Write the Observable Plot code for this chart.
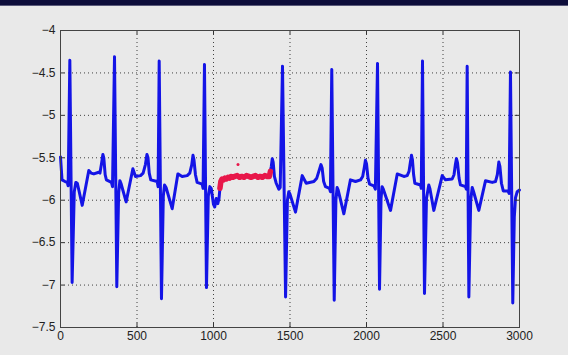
<!DOCTYPE html>
<html><head><meta charset="utf-8">
<script src="https://cdn.jsdelivr.net/npm/d3@7"></script>
<script src="https://cdn.jsdelivr.net/npm/@observablehq/plot@0.6"></script>
<style>
html,body{margin:0;padding:0;background:#e9e9e9;width:568px;height:355px;overflow:hidden}
#strip{position:absolute;left:0;top:0;width:568px;height:5px;background:#0d0d3a;border-bottom:1px solid #5a5a7a}
#chart{position:absolute;left:0;top:0}
</style></head><body>
<div id="chart"></div><div id="strip"></div>
<script>
const xTicks = [0, 500, 1000, 1500, 2000, 2500, 3000];
const xTickLabels = ["0", "500", "1000", "1500", "2000", "2500", "3000"];
const yTicks = [-4, -4.5, -5, -5.5, -6, -6.5, -7, -7.5];
const yTickLabels = ["\u22124", "\u22124.5", "\u22125", "\u22125.5", "\u22126", "\u22126.5", "\u22127", "\u22127.5"];

// blue ECG trace: sample index / value (NaN = gap where the red part is)
const blueX = [
  0,10,30,44,50,61,76,90,100,110,142,185,200,218,250,258,268,277,283,292,300,333,340,
  353,368,380,388,395,429,473,490,523,540,555,565,572,580,590,632,638,
  645,660,672,680,690,730,767,795,828,845,858,866,872,882,893,926,932,
  941,954,966,976,985,1000,1008,1018,1028,1036,1042,
  1043,
  1372,1378,1384,1390,1398,1410,1427,1436,
  1451,1471,1483,1492,1500,1536,1580,1606,1656,1675,1692,1702,1710,1720,1732,1758,1764,
  1773,1789,1800,1808,1815,1852,1895,1928,1961,1975,1985,1993,2000,2010,2020,2048,2058,
  2072,2085,2095,2102,2110,2157,2201,2244,2266,2278,2287,2294,2300,2308,2316,2353,2358,
  2366,2379,2392,2407,2414,2440,2495,2516,2560,2572,2581,2588,2595,2605,2614,2647,2652,
  2658,2669,2681,2691,2700,2734,2778,2822,2843,2855,2865,2872,2882,2894,2924,2932,
  2941,2956,2966,2974,2985,3000
];
const blueY = [
  -5.49,-5.76,-5.78,-5.79,-5.83,-4.35,-6.97,-5.90,-5.79,-5.80,-6.06,-5.65,-5.68,-5.69,-5.67,-5.68,-5.57,-5.46,-5.50,-5.70,-5.76,-5.79,-5.84,
  -4.31,-7.02,-5.92,-5.77,-5.80,-6.02,-5.63,-5.72,-5.71,-5.68,-5.58,-5.46,-5.50,-5.68,-5.76,-5.78,-5.84,
  -4.36,-7.16,-5.95,-5.82,-5.85,-6.10,-5.69,-5.72,-5.71,-5.68,-5.58,-5.47,-5.52,-5.70,-5.79,-5.81,-5.86,
  -4.40,-7.03,-5.95,-5.84,-5.86,-6.05,-6.08,-5.98,-6.04,-5.98,-5.86,
  NaN,
  -5.66,-5.60,-5.51,-5.55,-5.72,-5.80,-5.87,-5.85,
  -4.42,-7.14,-6.00,-5.90,-5.93,-6.14,-5.71,-5.80,-5.78,-5.74,-5.64,-5.58,-5.62,-5.78,-5.84,-5.86,-5.90,
  -4.46,-7.18,-6.00,-5.85,-5.88,-6.16,-5.76,-5.78,-5.76,-5.72,-5.62,-5.53,-5.57,-5.74,-5.81,-5.83,-5.87,
  -4.39,-7.05,-5.98,-5.84,-5.87,-6.12,-5.69,-5.72,-5.71,-5.66,-5.55,-5.47,-5.52,-5.70,-5.80,-5.82,-5.86,
  -4.36,-7.10,-5.98,-5.82,-5.86,-6.12,-5.71,-5.76,-5.75,-5.70,-5.58,-5.51,-5.56,-5.74,-5.82,-5.84,-5.87,
  -4.42,-7.14,-6.00,-5.85,-5.90,-6.12,-5.77,-5.79,-5.78,-5.70,-5.55,-5.60,-5.80,-5.89,-5.89,-5.92,
  -4.49,-7.21,-6.20,-5.97,-5.90,-5.88
];

// red highlighted segment
const redX = [1042,1048,1056,1065,1075,1085,1095,1105,1115,1125,1140,1155,1170,1185,1200,1215,1230,1245,1260,1275,1290,1305,1320,1335,1350,1365,1372];
const redY = [-5.86,-5.78,-5.75,-5.76,-5.74,-5.75,-5.73,-5.74,-5.72,-5.73,-5.72,-5.71,-5.73,-5.72,-5.73,-5.71,-5.72,-5.73,-5.72,-5.71,-5.73,-5.72,-5.73,-5.71,-5.72,-5.72,-5.66];
const outlierX = [1160];
const outlierY = [-5.58];

const blue = blueX.map((x, i) => ({x, y: blueY[i]}));
const red = redX.map((x, i) => ({x, y: redY[i]}));
const outl = outlierX.map((x, i) => ({x, y: outlierY[i]}));
const xLab = new Map(xTicks.map((t, i) => [t, xTickLabels[i]]));
const yLab = new Map(yTicks.map((t, i) => [t, yTickLabels[i]]));
const inner = yTicks.slice(1, -1);
const innerX = xTicks.slice(1, -1);

const chart = Plot.plot({
  width: 568, height: 355,
  marginLeft: 60, marginRight: 49, marginTop: 30, marginBottom: 28,
  x: {domain: [0, 3000]},
  y: {domain: [-7.5, -4]},
  style: {background: "transparent", fontFamily: "'Liberation Sans', Arial, sans-serif", fontSize: "12px", color: "#222"},
  marks: [
    Plot.gridX(innerX, {stroke: "#222", strokeOpacity: 0.85, strokeDasharray: "1,3"}),
    Plot.gridY(inner, {stroke: "#222", strokeOpacity: 0.85, strokeDasharray: "1,3"}),
    Plot.line(blue, {x: "x", y: "y", stroke: "#1414e6", strokeWidth: 3, strokeLinejoin: "round", strokeLinecap: "round"}),
    Plot.line(red, {x: "x", y: "y", stroke: "#e8174a", strokeWidth: 5.5, strokeLinejoin: "round"}),
    Plot.dot(outl, {x: "x", y: "y", r: 1.5, fill: "#e8174a"}),
    Plot.ruleX(innerX, {x: d => d, y1: -7.5, y2: -7.45, stroke: "#333"}),
    Plot.ruleX(innerX, {x: d => d, y1: -4.05, y2: -4, stroke: "#333"}),
    Plot.ruleY(inner, {y: d => d, x1: 0, x2: 28, stroke: "#333"}),
    Plot.ruleY(inner, {y: d => d, x1: 2972, x2: 3000, stroke: "#333"}),
    Plot.frame({stroke: "#444"}),
    Plot.axisX(xTicks, {anchor: "bottom", tickSize: 0, tickPadding: 4, tickFormat: d => xLab.get(d), label: null}),
    Plot.axisY(yTicks, {anchor: "left", tickSize: 0, tickPadding: 5, tickFormat: d => yLab.get(d), label: null})
  ]
});
document.getElementById("chart").appendChild(chart);
</script>
</body></html>
